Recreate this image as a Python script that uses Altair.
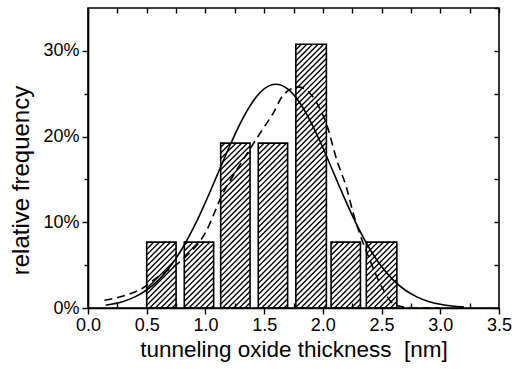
import altair as alt
import numpy as np
import pandas as pd

# Histogram bins (nm) and relative frequency (%)
bin_left = [0.50, 0.82, 1.13, 1.45, 1.77, 2.07, 2.37]
bin_right = [0.75, 1.07, 1.38, 1.70, 2.03, 2.32, 2.63]
freq = [7.69, 7.69, 19.23, 19.23, 30.77, 7.69, 7.69]

# Normal fit (solid)
fit_x = [0.15, 0.3, 0.4, 0.5, 0.6, 0.7, 0.8, 0.9, 1.0, 1.1, 1.2, 1.3, 1.4, 1.5, 1.6,
         1.7, 1.8, 1.9, 2.0, 2.1, 2.2, 2.3, 2.4, 2.5, 2.6, 2.7, 2.8, 2.9, 3.0, 3.1, 3.2]
fit_y = [0.33, 0.77, 1.30, 2.10, 3.25, 4.83, 6.88, 9.40, 12.33, 15.50, 18.70, 21.64, 24.01, 25.56, 26.1,
         25.56, 24.01, 21.64, 18.70, 15.50, 12.33, 9.40, 6.88, 4.83, 3.25, 2.10, 1.30, 0.77, 0.44, 0.24, 0.13]

# Skewed fit (dashed)
dash_x = [0.14, 0.3, 0.45, 0.6, 0.8, 1.0, 1.15, 1.28, 1.4, 1.48, 1.58, 1.66, 1.79, 1.9,
          1.98, 2.03, 2.12, 2.2, 2.26, 2.4, 2.5, 2.6, 2.7, 2.85, 3.0]
dash_y = [0.9, 1.4, 2.2, 3.7, 5.6, 8.8, 13.4, 16.4, 19.0, 20.7, 22.8, 24.8, 25.8, 24.9,
          23.1, 21.5, 17.2, 14.1, 11.0, 5.6, 2.5, 0.5, 0.1, 0.0, 0.0]

X_MAX, Y_MAX = 3.5, 35
W, H = 411, 300
FONT = "Liberation Sans"

bars = pd.DataFrame({"l": bin_left, "r": bin_right, "f": freq})
fit = pd.DataFrame({"fx": fit_x, "fy": fit_y})
dash = pd.DataFrame({"dx": dash_x, "dy": dash_y})

# 45-degree hatch segments clipped to each bar (built in pixel space, stored in data units)
sx, sy = W / X_MAX, H / Y_MAX
step = 5.6
segs = []
for l, r, f in zip(bin_left, bin_right, freq):
    X0, X1, Yt = l * sx, r * sx, f * sy
    for k in range(int(np.floor((X0 - Yt) / step)) - 1, int(np.ceil(X1 / step)) + 2):
        c = k * step
        xa, xb = max(X0, c), min(X1, c + Yt)
        if xb - xa > 0.4:
            segs.append({"hx": xa / sx, "hx2": xb / sx, "hy": (xa - c) / sy, "hy2": (xb - c) / sy})
hatch = pd.DataFrame(segs)

xs = alt.Scale(domain=[0, X_MAX], nice=False, zero=False, padding=0)
ys = alt.Scale(domain=[0, Y_MAX], nice=False, padding=0)

quarter = [i * 0.25 for i in range(15)]
fives = [i * 5 for i in range(8)]

hatch_layer = alt.Chart(hatch).mark_rule(color="black", strokeWidth=1.35).encode(
    x=alt.X("hx:Q", scale=xs, axis=alt.Axis(orient="top", values=quarter, labels=False, domain=False,
                                             tickSize=5, offset=-5, title=None)),
    x2="hx2:Q",
    y=alt.Y("hy:Q", scale=ys, axis=alt.Axis(orient="right", values=fives, labels=False, domain=False,
                                             tickSize=5, offset=-5, title=None)),
    y2="hy2:Q",
)

outline = alt.Chart(bars).mark_rect(fillOpacity=0, stroke="black", strokeWidth=1.6).encode(
    x=alt.X("l:Q", scale=xs, axis=alt.Axis(orient="bottom", values=[i * 0.5 for i in range(8)],
                                            format=".1f", tickSize=6, labelPadding=2, labelFlush=False,
                                            title="tunneling oxide thickness\u00a0 [nm]", titlePadding=4,
                                            titleFontSize=22.5)),
    x2="r:Q",
    y=alt.Y("f:Q", scale=ys, axis=alt.Axis(orient="left", values=[0, 10, 20, 30], labelFlush=False,
                                            labelExpr="datum.value + '%'", tickSize=6, labelPadding=3,
                                            title="relative frequency", titlePadding=9,
                                            titleFontSize=24, titleY=172)),
    y2=alt.datum(0),
)

solid = alt.Chart(fit).mark_line(color="black", strokeWidth=1.6, interpolate="monotone").encode(
    x=alt.X("fx:Q", scale=xs, axis=alt.Axis(orient="bottom", values=[0.25, 0.75, 1.25, 1.75, 2.25, 2.75, 3.25],
                                             labels=False, domain=False, tickSize=5, offset=-5, title=None)),
    y=alt.Y("fy:Q", scale=ys, axis=alt.Axis(orient="left", values=[5, 15, 25], labels=False, domain=False,
                                             tickSize=4, title=None)),
)

dashed = alt.Chart(dash).mark_line(color="black", strokeWidth=1.6, strokeDash=[8, 5],
                                   interpolate="monotone").encode(
    x=alt.X("dx:Q", scale=xs, axis=None),
    y=alt.Y("dy:Q", scale=ys, axis=None),
)

chart = alt.layer(hatch_layer, outline, solid, dashed).resolve_axis(
    x="independent", y="independent"
).properties(
    width=W, height=H,
    autosize=alt.AutoSizeParams(type="none"),
    padding={"left": 88, "top": 8, "right": 20, "bottom": 61},
    background="white",
).configure_view(
    stroke="black", strokeWidth=1.6
).configure_axis(
    grid=False, domainColor="black", domainWidth=1.6, tickColor="black", tickWidth=1.4,
    labelFont=FONT, labelFontSize=18, labelColor="black",
    titleFont=FONT, titleFontWeight="normal", titleColor="black",
)

chart.save("out.html", embed_options={"renderer": "svg", "actions": False})
